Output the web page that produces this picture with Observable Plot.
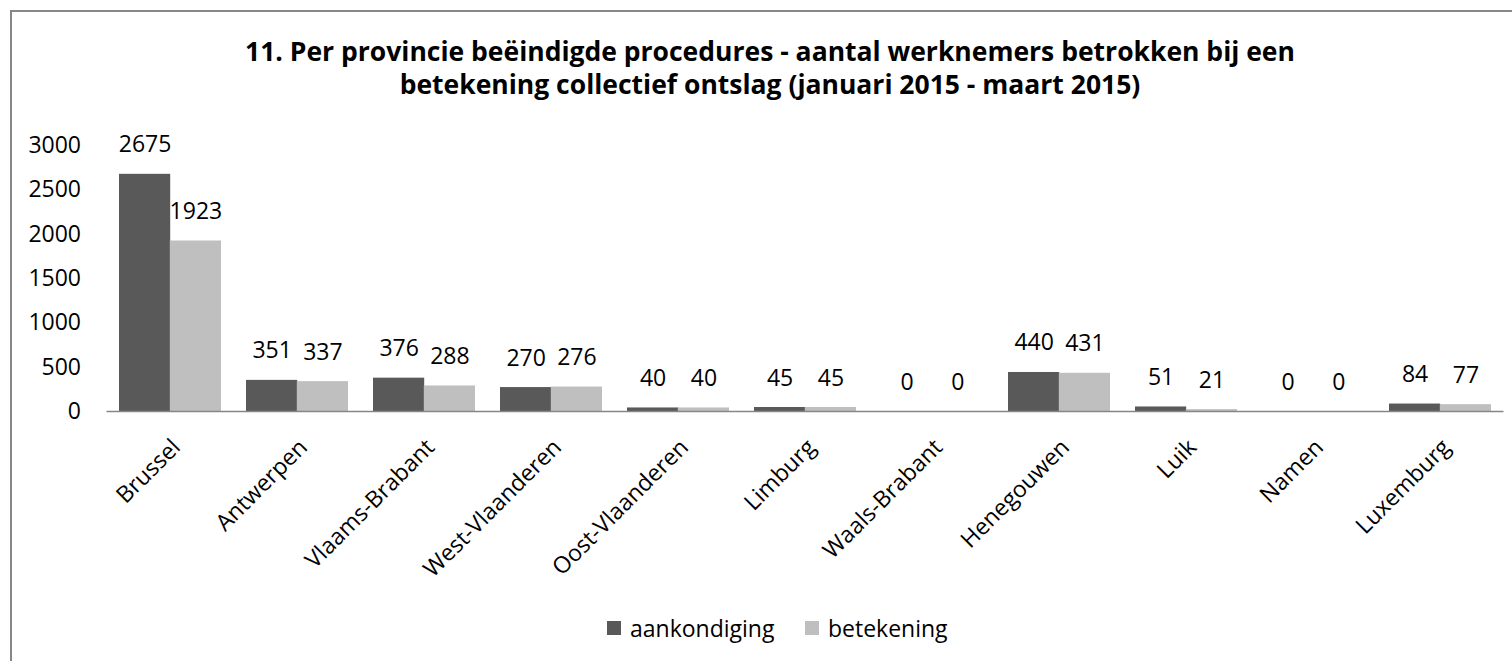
<!DOCTYPE html>
<html>
<head>
<meta charset="utf-8">
<script src="https://cdn.jsdelivr.net/npm/d3@7"></script>
<script src="https://cdn.jsdelivr.net/npm/@observablehq/plot@0.6"></script>
<style>
  html, body { margin: 0; padding: 0; background: #fff; overflow: hidden; width: 1512px; height: 661px; }
  body { position: relative; font-family: "Open Sans", "Noto Sans", sans-serif; color: #000; }
  #frame { position: absolute; left: 10px; top: 10px; width: 1600px; height: 700px; border: 2px solid #878787; box-sizing: border-box; }
  #title { position: absolute; left: 170px; width: 1200px; top: 35px; text-align: center; font-weight: bold; font-size: 26.5px; line-height: 33px; }
  #chart { position: absolute; left: 0; top: 0; }
  #legend { position: absolute; top: 612px; left: 0; width: 1512px; height: 32px; font-size: 23px; }
  .item { position: absolute; display: flex; align-items: center; gap: 9px; line-height: 32px; }
  .sw { width: 14px; height: 14px; display: inline-block; }
</style>
</head>
<body>
<div id="frame"></div>
<div id="title">11. Per provincie beëindigde procedures - aantal werknemers betrokken bij een<br>betekening collectief ontslag (januari 2015 - maart 2015)</div>
<div id="chart"></div>
<div id="legend"></div>
<script>
const provinces = ["Brussel", "Antwerpen", "Vlaams-Brabant", "West-Vlaanderen", "Oost-Vlaanderen", "Limburg", "Waals-Brabant", "Henegouwen", "Luik", "Namen", "Luxemburg"];
const aankondiging = [2675, 351, 376, 270, 40, 45, 0, 440, 51, 0, 84];
const betekening = [1923, 337, 288, 276, 40, 45, 0, 431, 21, 0, 77];
const seriesNames = ["aankondiging", "betekening"];
const seriesColors = ["#595959", "#bfbfbf"];
const yTicks = [0, 500, 1000, 1500, 2000, 2500, 3000];

const rowsA = provinces.map((p, i) => ({province: p, value: aankondiging[i]}));
const rowsB = provinces.map((p, i) => ({province: p, value: betekening[i]}));

const W = 1512, H = 600, ML = 106.5, MR = 8.5, MT = 145, MB = 189;
const padIn = 0.2, padOut = 0.1;
const step = (W - ML - MR) / (provinces.length - padIn + 2 * padOut);
const half = step * (1 - padIn) / 2;

const font = "'Open Sans', 'Noto Sans', sans-serif";
const fs = 23;

const chart = Plot.plot({
  width: W, height: H,
  marginLeft: ML, marginRight: MR, marginTop: MT, marginBottom: MB,
  style: {fontFamily: font, fontSize: fs + "px", color: "#000", background: "transparent", overflow: "visible"},
  x: {domain: provinces, paddingInner: padIn, paddingOuter: padOut, label: null},
  y: {domain: [0, 3000], label: null},
  marks: [
    Plot.barY(rowsA, {x: "province", y: "value", fill: seriesColors[0], insetRight: half}),
    Plot.barY(rowsB, {x: "province", y: "value", fill: seriesColors[1], insetLeft: half}),
    Plot.ruleY([0], {stroke: "#868686", strokeWidth: 1.5}),
    Plot.text(rowsA, {x: "province", y: "value", text: d => String(d.value), dx: -half / 2, dy: -22, lineAnchor: "bottom", fontSize: fs, fill: "#000"}),
    Plot.text(rowsB, {x: "province", y: "value", text: d => String(d.value), dx: half / 2, dy: -22, lineAnchor: "bottom", fontSize: fs, fill: "#000"}),
    Plot.axisY({ticks: yTicks, tickSize: 0, tickPadding: 26, tickFormat: d => String(d), fontSize: fs, label: null}),
    Plot.axisX({tickSize: 0, tickRotate: -45, tickPadding: 32, dx: 6, fontSize: fs, label: null})
  ]
});
document.getElementById("chart").appendChild(chart);

const legend = document.getElementById("legend");
const legendX = [607, 805];
seriesNames.forEach((name, i) => {
  const item = document.createElement("div");
  item.className = "item";
  item.style.left = legendX[i] + "px";
  const sw = document.createElement("span");
  sw.className = "sw";
  sw.style.background = seriesColors[i];
  const t = document.createElement("span");
  t.textContent = name;
  item.appendChild(sw);
  item.appendChild(t);
  legend.appendChild(item);
});
</script>
</body>
</html>
